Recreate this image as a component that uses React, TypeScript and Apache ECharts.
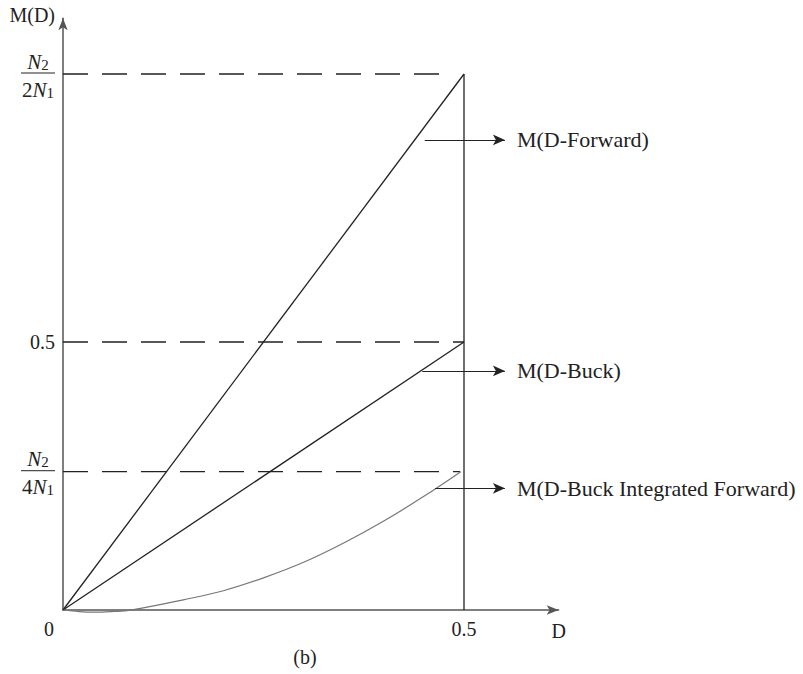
import React, { useEffect, useRef } from "react";
import * as echarts from "echarts";

// ---- data ----
const X_MAX = 0.618;
const Y_MAX = 1.104;
const M_FORWARD_TOP = 1.0; // N2/(2N1)
const M_BUCK_TOP = 0.5;
const M_BIF_TOP = 0.258; // N2/(4N1)

const forwardD = [0, 0.5];
const forwardM = [0, 1.0];
const buckD = [0, 0.5];
const buckM = [0, 0.5];
const bifD = [0, 0.02, 0.04, 0.06, 0.08, 0.1, 0.15, 0.2, 0.25, 0.3, 0.35, 0.4, 0.45, 0.496];
const bifM = [0, -0.003, -0.004, -0.003, -0.001, 0.004, 0.019, 0.036, 0.06, 0.089, 0.125, 0.166, 0.212, 0.258];
const verticalD = [0.5, 0.5];
const verticalM = [0, 1.0];
const dashForwardD = [0, 0.474];
const dashBuckD = [0, 0.5];
const dashBifD = [0, 0.495];

const arrowLabels = ["M(D-Forward)", "M(D-Buck)", "M(D-Buck Integrated Forward)"];
const arrowM = [0.877, 0.446, 0.227];
const arrowStartD = [0.451, 0.448, 0.464];
const arrowEndD = 0.551;

const xTickValues = [0.5];
const yTickValues = [0.5];

const FONT = "'Liberation Serif', 'DejaVu Serif', serif";
const INK = "#222";
const AXIS = "#555";

const zip = (a: number[], b: number[]) => a.map((v, i) => [v, b[i]]);

export default function App() {
  const ref = useRef<HTMLDivElement>(null);
  useEffect(() => {
    const chart = echarts.init(ref.current!, null, { renderer: "svg" });
    const solid = (name: string, data: number[][], color = INK, width = 1.3, smooth: any = false) => ({
      type: "line",
      name,
      data,
      showSymbol: false,
      symbol: "none",
      smooth,
      clip: false,
      silent: true,
      lineStyle: { color, width },
      z: 3,
    });
    const dashed = (name: string, d: number[], m: number) => ({
      type: "line",
      name,
      data: d.map((x) => [x, m]),
      symbol: "none",
      silent: true,
      lineStyle: { color: INK, width: 1.3, type: [25, 14] },
      z: 2,
    });
    const arrowSeries = arrowLabels.map((label, i) => ({
      type: "line",
      name: "arrow" + i,
      data: [],
      symbol: "none",
      silent: true,
      markLine: {
        silent: true,
        animation: false,
        symbol: ["none", "arrow"],
        symbolSize: [8, 12],
        lineStyle: { color: INK, width: 1.2, type: "solid" },
        label: {
          show: true,
          position: "end",
          distance: 12,
          formatter: label,
          color: INK,
          fontSize: 22,
          fontFamily: FONT,
        },
        data: [[{ coord: [arrowStartD[i], arrowM[i]] }, { coord: [arrowEndD, arrowM[i]] }]],
      },
    }));

    const option: any = {
      animation: false,
      backgroundColor: "#fff",
      grid: { left: 63, right: 803 - 63 - X_MAX * 802, top: 610 - Y_MAX * 536, bottom: 64 },
      xAxis: {
        type: "value",
        min: 0,
        max: X_MAX,
        splitLine: { show: false },
        axisTick: { show: false },
        axisLine: { show: true, symbol: ["none", "arrow"], symbolSize: [7, 12], lineStyle: { color: AXIS, width: 1.5 } },
        axisLabel: { customValues: xTickValues, margin: 9, fontSize: 20, color: INK, fontFamily: FONT, formatter: (v: number) => String(v) },
      },
      yAxis: {
        type: "value",
        min: 0,
        max: Y_MAX,
        splitLine: { show: false },
        axisTick: { show: false },
        axisLine: { show: true, symbol: ["none", "arrow"], symbolSize: [7, 12], lineStyle: { color: AXIS, width: 1.5 } },
        axisLabel: { customValues: yTickValues, margin: 8, fontSize: 20, color: INK, fontFamily: FONT, formatter: (v: number) => String(v) },
      },
      series: [
        dashed("dashForward", dashForwardD, M_FORWARD_TOP),
        dashed("dashBuck", dashBuckD, M_BUCK_TOP),
        dashed("dashBif", dashBifD, M_BIF_TOP),
        solid("vertical", zip(verticalD, verticalM)),
        solid("forward", zip(forwardD, forwardM)),
        solid("buck", zip(buckD, buckM)),
        solid("bif", zip(bifD, bifM), "#777", 1.2, 0.35),
        ...arrowSeries,
      ],
    };
    chart.setOption(option);

    const toPx = (d: number, m: number) => chart.convertToPixel({ gridIndex: 0 }, [d, m]) as number[];
    const rich = {
      i: { fontStyle: "italic", fontSize: 21, lineHeight: 26, fontFamily: FONT, color: INK, verticalAlign: "bottom" },
      r: { fontSize: 21, lineHeight: 26, fontFamily: FONT, color: INK, verticalAlign: "bottom" },
      s: { fontSize: 15, lineHeight: 13, fontFamily: FONT, color: INK, verticalAlign: "bottom" },
    };
    const txt = (text: string, x: number, y: number, align = "center", extra: any = {}) => ({
      type: "text",
      silent: true,
      style: {
        text,
        x,
        y,
        align,
        textAlign: align,
        verticalAlign: "middle",
        textVerticalAlign: "middle",
        fontSize: 20,
        fontFamily: FONT,
        fill: INK,
        ...extra,
      },
    });
    const frac = (coef: string, m: number) => {
      const py = toPx(0, m)[1];
      return {
        type: "group",
        x: 38,
        y: py,
        silent: true,
        children: [
          txt("{i|N}{s|2}", 0, -15, "center", { rich }),
          { type: "line", shape: { x1: -17, y1: -1, x2: 17, y2: -1 }, style: { stroke: INK, lineWidth: 1 } },
          txt(`{r|${coef}}{i|N}{s|1}`, 0, 13, "center", { rich }),
        ],
      };
    };
    const origin = toPx(0, 0);
    const xEnd = toPx(X_MAX, 0);
    const yEnd = toPx(0, Y_MAX);
    chart.setOption({
      graphic: [
        frac("2", M_FORWARD_TOP),
        frac("4", M_BIF_TOP),
        txt("0", origin[0] - 14, origin[1] + 19),
        txt("M(D)", yEnd[0] - 8, yEnd[1] - 3, "right"),
        txt("D", xEnd[0], xEnd[1] + 21),
        txt("(b)", 305, 657),
      ],
    });
    return () => chart.dispose();
  }, []);
  return (
    <div
      ref={ref}
      style={{ position: "fixed", left: 0, top: 0, width: 803, height: 674, background: "#fff" }}
    />
  );
}
